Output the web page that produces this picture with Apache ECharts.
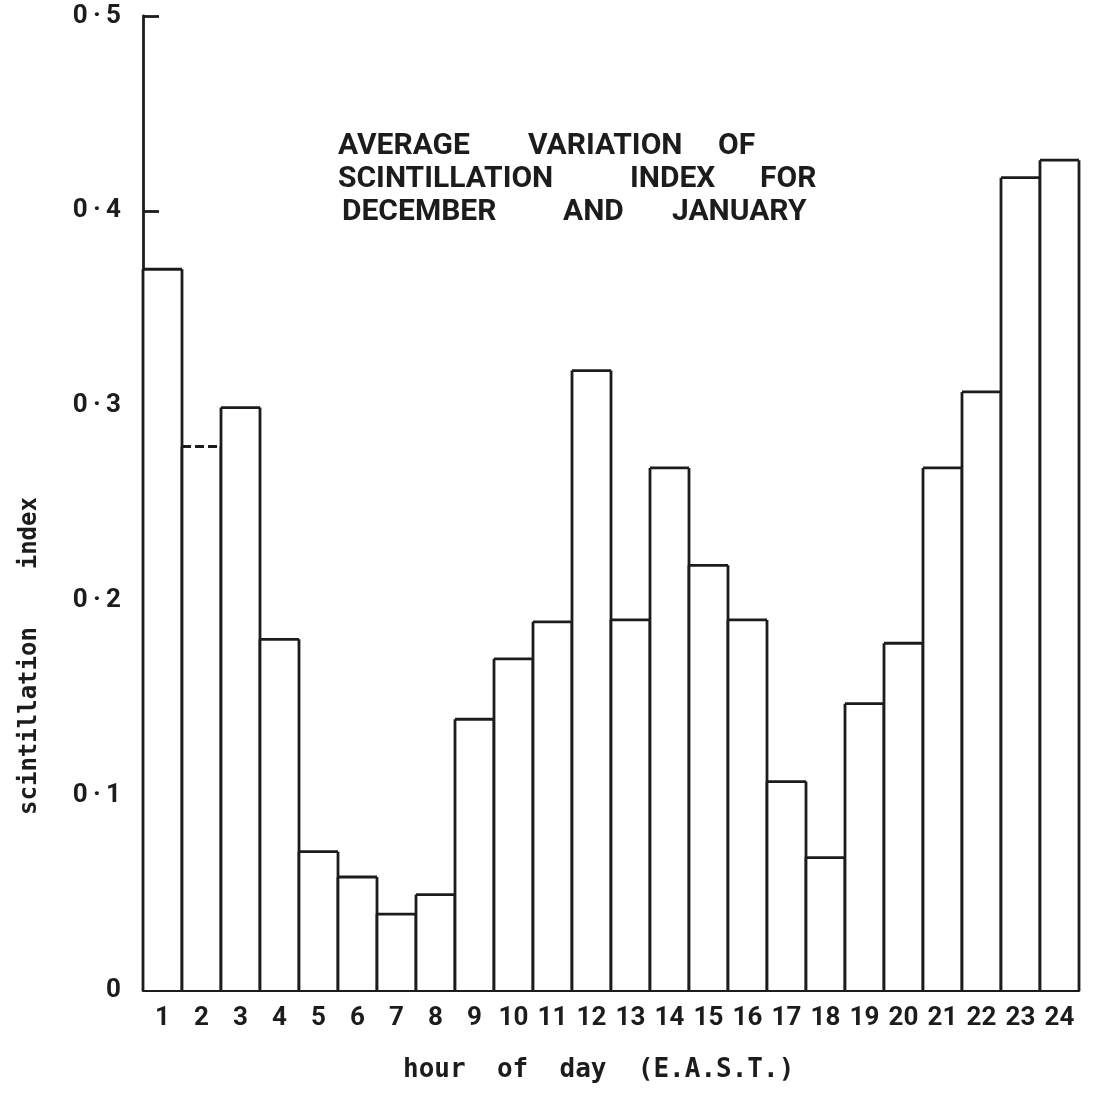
<!DOCTYPE html>
<html>
<head>
<meta charset="utf-8">
<title>Scintillation index by hour</title>
<script src="https://cdn.jsdelivr.net/npm/echarts@6/dist/echarts.min.js"></script>
<style>
  html, body { margin: 0; padding: 0; background: #ffffff; }
  #chart { width: 1094px; height: 1097px; }
</style>
</head>
<body>
<div id="chart"></div>
<script>
// Hour of day (E.A.S.T.)
const hours = ['1','2','3','4','5','6','7','8','9','10','11','12',
               '13','14','15','16','17','18','19','20','21','22','23','24'];

// Average scintillation index for December and January
const scintIndex = [0.370, 0.279, 0.299, 0.180, 0.071, 0.058, 0.039, 0.049,
                    0.139, 0.170, 0.189, 0.318, 0.190, 0.268, 0.218, 0.190,
                    0.107, 0.068, 0.147, 0.178, 0.268, 0.307, 0.417, 0.426];

// Value-axis tick labels, 0 to 0.5 in steps of 0.1
const yTickLabels = ['0', '0\u2009·\u20091', '0\u2009·\u20092', '0\u2009·\u20093', '0\u2009·\u20094', '0\u2009·\u20095'];

// Caption, one array of words per line
const captionLine1 = ['AVERAGE', 'VARIATION', 'OF'];
const captionLine2 = ['SCINTILLATION', 'INDEX', 'FOR'];
const captionLine3 = ['DECEMBER', 'AND', 'JANUARY'];

const xAxisName = 'hour  of  day  (E.A.S.T.)';
const yAxisName = 'scintillation    index';

const INK = '#1c1c1c';
const LINE_W = 2.8;
const NUM_FONT = 'Roboto, "DejaVu Sans", sans-serif';
const MONO_FONT = '"DejaVu Sans Mono", monospace';

// bars whose top edge was drawn dashed
const dashedTop = new Set([1]);

// hand-lettered caption: words laid out on a loose grid
const captionLines = [captionLine1, captionLine2, captionLine3];
const captionX = [[338, 528, 718], [338, 630, 760], [342, 563, 672]];
const captionY = [146, 179, 212];
const captionGraphics = [];
captionLines.forEach((words, li) => {
  words.forEach((w, wi) => {
    captionGraphics.push({
      type: 'text',
      x: captionX[li][wi],
      y: captionY[li],
      style: {
        text: w,
        fill: INK,
        font: 'bold 30px ' + NUM_FONT,
        align: 'left',
        verticalAlign: 'middle'
      }
    });
  });
});

function renderBar(params, api) {
  const i = api.value(0);
  const v = api.value(1);
  const top = api.coord([i, v]);
  const base = api.coord([i, 0]);
  const w = api.size([1, 0])[0];
  const x0 = top[0] - w / 2;
  const x1 = top[0] + w / 2;
  const lineStyle = { stroke: INK, lineWidth: LINE_W, fill: null };
  const children = [
    { type: 'rect', shape: { x: x0, y: top[1], width: w, height: base[1] - top[1] },
      style: { fill: '#ffffff', stroke: null } },
    { type: 'line', shape: { x1: x0, y1: base[1], x2: x0, y2: top[1] }, style: lineStyle },
    { type: 'line', shape: { x1: x1, y1: base[1], x2: x1, y2: top[1] }, style: lineStyle },
    { type: 'line', shape: { x1: x0, y1: top[1], x2: x1, y2: top[1] },
      style: Object.assign({}, lineStyle, dashedTop.has(i) ? { lineDash: [9, 4] } : {}) }
  ];
  return { type: 'group', children: children };
}

const chart = echarts.init(document.getElementById('chart'), null, { renderer: 'canvas' });

chart.setOption({
  backgroundColor: '#ffffff',
  animation: false,
  grid: { left: 143, right: 15, top: 16, bottom: 107 },
  xAxis: {
    type: 'category',
    data: hours,
    boundaryGap: true,
    axisLine: { show: true, lineStyle: { color: INK, width: LINE_W } },
    axisTick: { show: false },
    axisLabel: {
      interval: 0,
      margin: 15,
      color: INK,
      fontFamily: NUM_FONT,
      fontWeight: 'bold',
      fontSize: 26
    },
    splitLine: { show: false }
  },
  yAxis: {
    type: 'value',
    min: 0,
    max: 0.5,
    interval: 0.1,
    axisLine: { show: true, lineStyle: { color: INK, width: LINE_W } },
    axisTick: { show: true, inside: true, length: 16, lineStyle: { color: INK, width: LINE_W } },
    axisLabel: {
      margin: 22,
      color: INK,
      fontFamily: NUM_FONT,
      fontWeight: 'bold',
      fontSize: 26,
      formatter: (v) => yTickLabels[Math.round(v * 10)]
    },
    splitLine: { show: false }
  },
  series: [{
    type: 'custom',
    renderItem: renderBar,
    data: scintIndex.map((v, i) => [i, v]),
    z: 3
  }],
  graphic: captionGraphics.concat([
    {
      type: 'text',
      x: 403,
      y: 1070,
      style: {
        text: xAxisName,
        fill: INK,
        font: 'bold 26px ' + MONO_FONT,
        align: 'left',
        verticalAlign: 'middle'
      }
    },
    {
      type: 'text',
      x: 30,
      y: 656,
      rotation: Math.PI / 2,
      style: {
        text: yAxisName,
        fill: INK,
        font: 'bold 24px ' + MONO_FONT,
        align: 'center',
        verticalAlign: 'middle'
      }
    }
  ])
});
</script>
</body>
</html>
